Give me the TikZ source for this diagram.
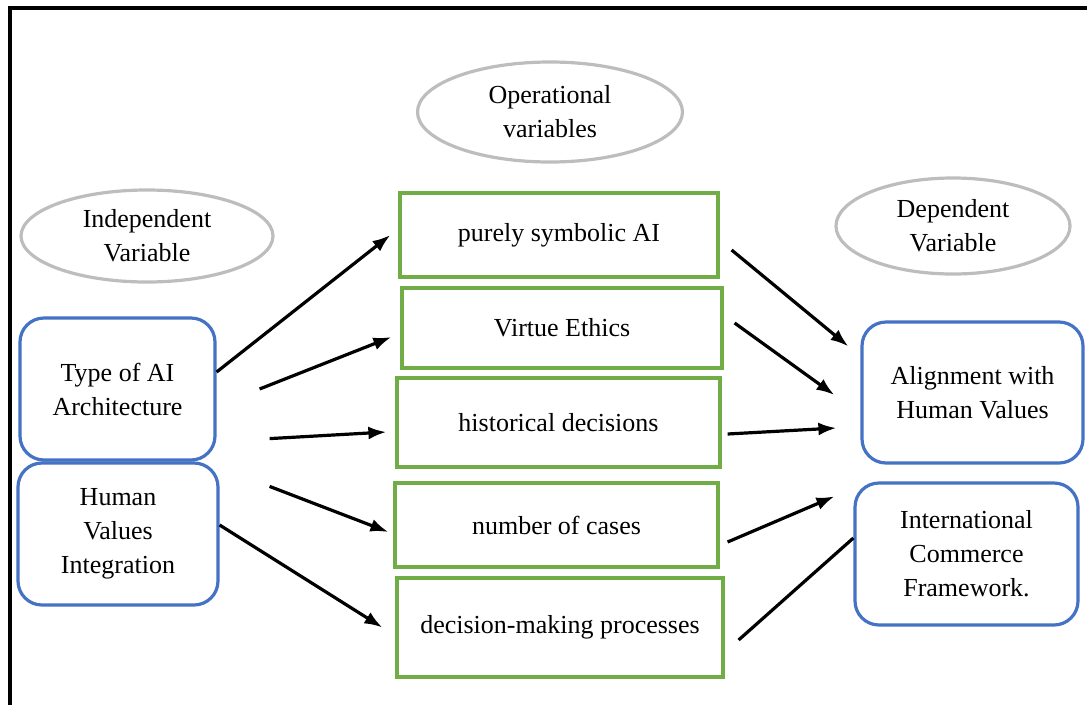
\documentclass[tikz,border=0pt]{standalone}
\usepackage{fontspec}
\setmainfont{Liberation Serif}
\usepackage{xcolor}
\usetikzlibrary{shapes.geometric, arrows.meta, positioning}
\definecolor{boxblue}{HTML}{4472C4}
\definecolor{boxgreen}{HTML}{70AD47}
\definecolor{ellgray}{HTML}{BDBDBD}

\begin{document}
\begin{tikzpicture}[x=1pt, y=-1pt,
  every node/.style={font=\fontsize{26}{34}\selectfont, align=center, inner sep=0pt},
  varbox/.style={draw=boxblue, line width=3.2pt, rounded corners=24pt},
  opbox/.style={draw=boxgreen, line width=3.2pt, rectangle},
  label ell/.style={draw=ellgray, line width=3.2pt, ellipse},
  arr/.style={-{Latex[length=18pt,width=13pt]}, line width=3.2pt}]
\useasboundingbox (0,0) rectangle (1087,705);
\draw[line width=4pt] (1087,8) -- (10,8) -- (10,705);

% headings
\node (iv) [label ell, minimum width=252pt, minimum height=92pt] at (147,236) {Independent\\Variable};
\node (ov) [label ell, minimum width=265pt, minimum height=100pt] at (550,112) {Operational\\variables};
\node (dv) [label ell, minimum width=234pt, minimum height=96pt] at (953,226) {Dependent\\Variable};

% independent variables
\node (tai) [varbox, minimum width=195pt, minimum height=142pt] at (117.5,389) {Type of AI\\Architecture};
\node (hvi) [varbox, minimum width=200pt, minimum height=142pt] at (118,534) {Human\\Values\\Integration};

% operational variables
\node (psai) [opbox, minimum width=318pt, minimum height=84pt] at (559,235) {purely symbolic AI};
\node (vir) [opbox, minimum width=320pt, minimum height=80pt] at (562,328) {Virtue Ethics};
\node (hist) [opbox, minimum width=323pt, minimum height=89pt] at (558.5,422.5) {historical decisions};
\node (num) [opbox, minimum width=323pt, minimum height=84pt] at (556.5,525) {number of cases};
\node (dmp) [opbox, minimum width=326pt, minimum height=99pt] at (560,627.5) {decision-making processes};

% dependent variables
\node (ahv) [varbox, minimum width=221pt, minimum height=141pt] at (972.5,392.5) {Alignment with\\Human Values};
\node (icf) [varbox, minimum width=223pt, minimum height=142pt] at (966.5,554) {International\\Commerce\\Framework.};

\draw[arr] ([yshift=17pt]tai.east) -- ([xshift=-8pt]psai.west);
\draw[arr] ([xshift=43pt]tai.east) -- ([xshift=-9pt, yshift=-9pt]vir.west);
\draw[arr] ([xshift=53pt, yshift=23pt]tai.south east) -- ([xshift=-9pt, yshift=-9.5pt]hist.west);
\draw[arr] ([xshift=50pt, yshift=-25pt]hvi.north east) -- ([xshift=-5pt, yshift=-7pt]num.west);
\draw[arr] ([yshift=9pt]hvi.east) -- ([xshift=-13pt]dmp.west);

\draw[arr] ([xshift=12pt, yshift=-15pt]psai.east) -- ([xshift=-12pt, yshift=-26pt]ahv.north west);
\draw[arr] ([xshift=11pt, yshift=5pt]vir.east) -- ([xshift=-26pt, yshift=-2.5pt]ahv.west);
\draw[arr] ([xshift=6pt, yshift=-11.5pt]hist.east) -- ([xshift=-24pt, yshift=-35.5pt]ahv.west);
\draw[arr] ([xshift=8pt, yshift=-17pt]num.east) -- ([xshift=-19pt, yshift=-15pt]icf.north west);
\draw[line width=3.2pt] ([xshift=14pt, yshift=-12.5pt]dmp.east) -- ([yshift=16pt]icf.west);
\end{tikzpicture}
\end{document}
